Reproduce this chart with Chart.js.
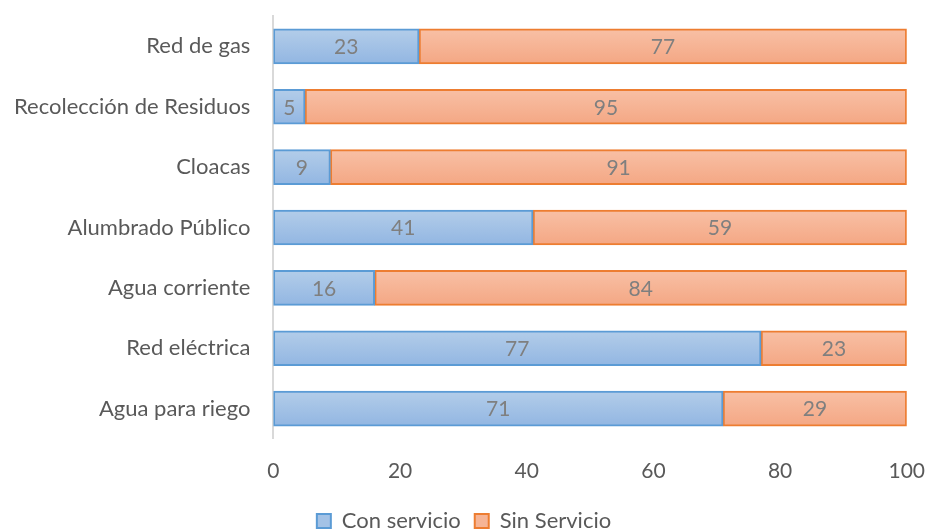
<!DOCTYPE html>
<html>
<head>
<meta charset="utf-8">
<script src="https://cdn.jsdelivr.net/npm/chart.js@4"></script>
<style>
  html, body { margin: 0; padding: 0; background: #fff; overflow: hidden; }
  #wrap { width: 962px; height: 562px; position: relative; margin-left: -25px; margin-top: -20px; }
</style>
</head>
<body>
<div id="wrap"><canvas id="servicesChart"></canvas></div>
<script>
var categories = ["Red de gas", "Recolección de Residuos", "Cloacas", "Alumbrado Público", "Agua corriente", "Red eléctrica", "Agua para riego"];
var conServicio = [23, 5, 9, 41, 16, 77, 71];
var sinServicio = [77, 95, 91, 59, 84, 23, 29];
var xTicks = [0, 20, 40, 60, 80, 100];
var seriesNames = ["Con servicio", "Sin Servicio"];

var FONT = "Lato, 'Open Sans', sans-serif";
var BAR = 35;

// vertical gradient inside each bar, like the office-style fill
function barFill(top, bottom) {
    return function (ctx) {
        var chart = ctx.chart;
        var y = chart.scales && chart.scales.y;
        if (!y || ctx.dataIndex === undefined) return bottom;
        var c = y.getPixelForValue(ctx.dataIndex);
        var g = chart.ctx.createLinearGradient(0, c - BAR / 2, 0, c + BAR / 2);
        g.addColorStop(0, top);
        g.addColorStop(1, bottom);
        return g;
    }
}

// value labels in the middle of each segment
var centerLabels = {
    id: "centerLabels",
    afterDatasetsDraw: function (chart) {
        var ctx = chart.ctx;
        ctx.save();
        ctx.font = "21px " + FONT;
        ctx.fillStyle = "#7f7f7f";
        ctx.textAlign = "center";
        ctx.textBaseline = "middle";
        chart.data.datasets.forEach(function (ds, di) {
            chart.getDatasetMeta(di).data.forEach(function (bar, i) {
                var mid = (bar.x + bar.base) / 2;
                ctx.fillText(ds.data[i], mid, bar.y + 1);
            })
        })
        ctx.restore();
    }
}

new Chart(document.getElementById("servicesChart").getContext("2d"), {
    type: "bar",
    data: {
        labels: categories,
        datasets: [
            {
                label: seriesNames[0],
                data: conServicio,
                backgroundColor: barFill("#b3cde9", "#92b6e2"),
                borderColor: "#5b9bd5",
                borderWidth: 2,
                borderSkipped: false,
                barThickness: BAR,
            },
            {
                label: seriesNames[1],
                data: sinServicio,
                backgroundColor: barFill("#f8c0a5", "#f4a784"),
                borderColor: "#ed7d31",
                borderWidth: 2,
                borderSkipped: false,
                barThickness: BAR,
            },
        ],
    },
    options: {
        indexAxis: "y",
        responsive: true,
        maintainAspectRatio: false,
        animation: false,
        layout: { padding: { top: 0, right: 0, left: 16, bottom: 0 } },
        scales: {
            x: {
                stacked: true,
                min: 0,
                max: 100,
                afterBuildTicks: function (axis) {
                    axis.ticks = xTicks.map(function (v) { return { value: v } });
                },
                grid: { display: false },
                border: { display: false },
                ticks: { color: "#595959", font: { family: FONT, size: 21 }, padding: 12 },
            },
            y: {
                stacked: true,
                grid: { display: false, drawTicks: false },
                border: { display: true, color: "#d9d9d9", width: 2 },
                ticks: { color: "#595959", font: { family: FONT, size: 22 }, padding: 23 },
            },
        },
        plugins: {
            tooltip: { enabled: false },
            legend: {
                position: "bottom",
                labels: {
                    color: "#595959",
                    font: { family: FONT, size: 22 },
                    boxWidth: 14,
                    boxHeight: 14,
                    padding: 14,
                    generateLabels: function (chart) {
                        var fills = ["#a3c2e6", "#f6b495"];
                        return chart.data.datasets.map(function (ds, i) {
                            return {
                                text: ds.label,
                                fillStyle: fills[i],
                                strokeStyle: ds.borderColor,
                                lineWidth: 2,
                                fontColor: "#595959",
                                datasetIndex: i,
                                hidden: false,
                            }
                        })
                    },
                },
            },
        },
    },
    plugins: [centerLabels],
})
</script>
</body>
</html>
